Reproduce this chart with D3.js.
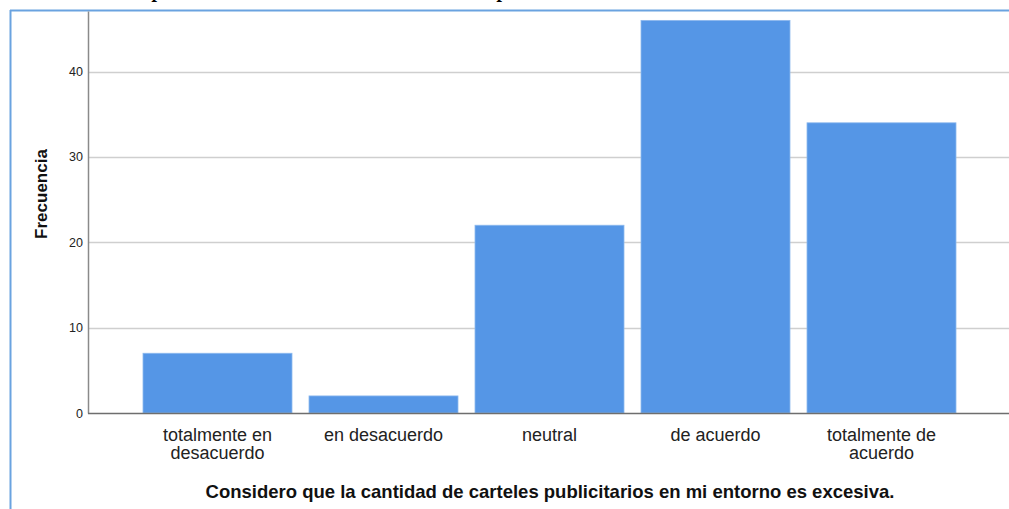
<!DOCTYPE html>
<html>
<head>
<meta charset="utf-8">
<script src="https://cdn.jsdelivr.net/npm/d3@7"></script>
<style>
  html, body { margin: 0; padding: 0; background: #fff; }
  svg { display: block; font-family: "Liberation Sans", Arial, sans-serif; }
</style>
</head>
<body>
<svg width="1009" height="509"></svg>
<script>
// data
var categories = [["totalmente en", "desacuerdo"], ["en desacuerdo"], ["neutral"], ["de acuerdo"], ["totalmente de", "acuerdo"]];
var frecuencias = [7, 2, 22, 46, 34];
var yTicks = [0, 10, 20, 30, 40];

var svg = d3.select("svg");
var margin = {top: 11, left: 88, right: 0, bottom: 96};
var width = 1009, height = 509;

// frame from the document page
svg.append("line").attr("x1", 10).attr("x2", width).attr("y1", 10.5).attr("y2", 10.5)
  .attr("stroke", "#6aa3e0").attr("stroke-width", 2);
svg.append("line").attr("x1", 10.5).attr("x2", 10.5).attr("y1", 10).attr("y2", height)
  .attr("stroke", "#6aa3e0").attr("stroke-width", 2);
// cut-off caption above (only descenders visible in the reference)
svg.append("text").attr("x", 153).attr("y", -3).attr("font-family", "Liberation Serif, serif")
  .attr("font-style", "italic").attr("font-weight", "bold").attr("font-size", 20).text("p");
svg.append("text").attr("x", 498).attr("y", -3).attr("font-family", "Liberation Serif, serif")
  .attr("font-style", "italic").attr("font-weight", "bold").attr("font-size", 20).text("p");

var y = d3.scaleLinear().domain([0, 47.1]).range([413, margin.top]);
var x = d3.scaleBand().domain(d3.range(categories.length)).range([134.5, 964.5])
  .paddingInner(17 / 166).paddingOuter(17 / 332);

// grid
svg.append("g").selectAll("line").data(yTicks.slice(1)).enter().append("line")
  .attr("x1", margin.left).attr("x2", width)
  .attr("y1", function(d){ return Math.round(y(d)) + 0.5; })
  .attr("y2", function(d){ return Math.round(y(d)) + 0.5; })
  .attr("stroke", "#cfcfcf").attr("stroke-width", 1.5);

// bars
svg.append("g").selectAll("rect").data(frecuencias).enter().append("rect")
  .attr("x", function(d, i){ return x(i); })
  .attr("width", x.bandwidth())
  .attr("y", function(d){ return y(d); })
  .attr("height", function(d){ return y(0) - y(d); })
  .attr("fill", "#5596e6")
  .attr("stroke", "#8db9ee").attr("stroke-width", 0.8);

// axes
var yAxis = svg.append("g").attr("transform", "translate(" + margin.left + ",0)")
  .call(d3.axisLeft(y).tickValues(yTicks).tickSize(0).tickPadding(5));
yAxis.select(".domain").attr("stroke", "#8a8a8a").attr("stroke-width", 1.5);
yAxis.selectAll("text").attr("font-size", 12.5).attr("fill", "#222")
  .attr("font-family", "Liberation Sans, Arial, sans-serif");

svg.append("line").attr("x1", margin.left).attr("x2", width).attr("y1", 413.5).attr("y2", 413.5)
  .attr("stroke", "#6e6e6e").attr("stroke-width", 1.5);

// category labels
var lab = svg.append("g").selectAll("text").data(categories).enter().append("text")
  .attr("text-anchor", "middle").attr("font-size", 18).attr("fill", "#222")
  .attr("x", function(d, i){ return x(i) + x.bandwidth() / 2; })
  .attr("y", 441);
lab.selectAll("tspan").data(function(d){ return d; }).enter().append("tspan")
  .attr("x", function(){ var p = d3.select(this.parentNode); return p.attr("x"); })
  .attr("dy", function(d, i){ return i ? 18 : 0; })
  .text(function(d){ return d; });

// axis titles
svg.append("text").attr("text-anchor", "middle").attr("font-weight", "bold").attr("font-size", 17)
  .attr("fill", "#111")
  .attr("transform", "translate(47,194) rotate(-90)").text("Frecuencia");
svg.append("text").attr("text-anchor", "middle").attr("font-weight", "bold").attr("font-size", 18.5)
  .attr("fill", "#111").attr("x", 550).attr("y", 498)
  .text("Considero que la cantidad de carteles publicitarios en mi entorno es excesiva.");
</script>
</body>
</html>
